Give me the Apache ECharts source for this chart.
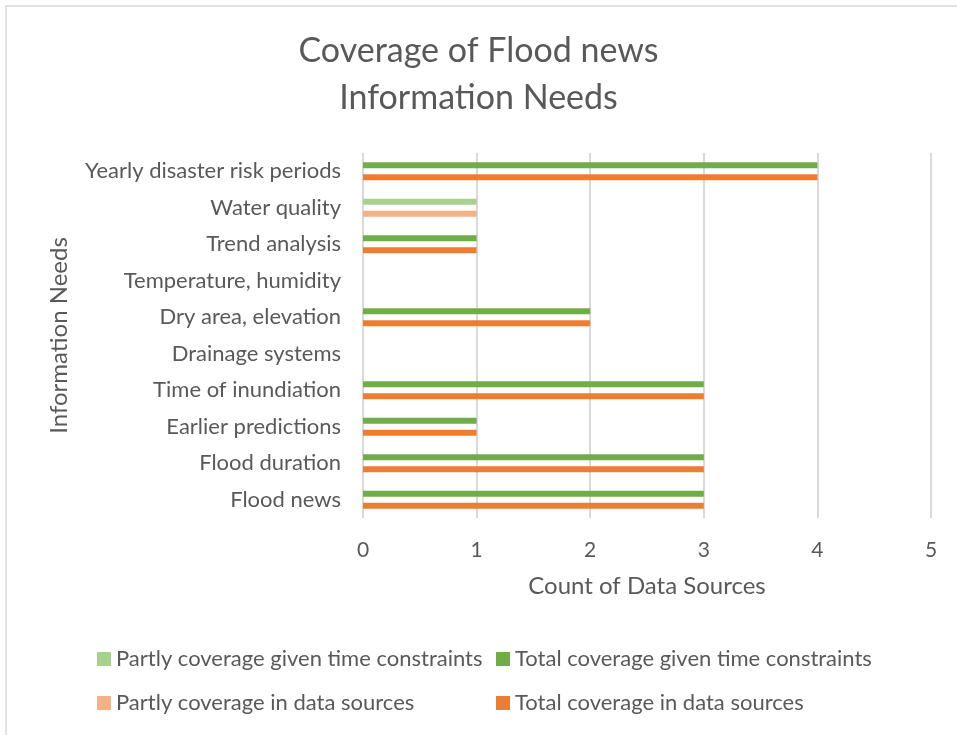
<!DOCTYPE html>
<html>
<head>
<meta charset="utf-8">
<script src="https://cdn.jsdelivr.net/npm/echarts@6/dist/echarts.min.js"></script>
<style>
  html, body { margin: 0; padding: 0; background: #fff; }
  #chart { width: 957px; height: 735px; }
</style>
</head>
<body>
<div id="chart"></div>
<script>
// Information needs, listed bottom to top on the category axis
const categories = [
  'Flood news',
  'Flood duration',
  'Earlier predictions',
  'Time of inundiation',
  'Drainage systems',
  'Dry area, elevation',
  'Temperature, humidity',
  'Trend analysis',
  'Water quality',
  'Yearly disaster risk periods'
];

// Counts of data sources per information need
const partlyTime  = [0, 0, 0, 0, 0, 0, 0, 0, 1, 0];
const totalTime   = [3, 3, 1, 3, 0, 2, 0, 1, 0, 4];
const partlyData  = [0, 0, 0, 0, 0, 0, 0, 0, 1, 0];
const totalData   = [3, 3, 1, 3, 0, 2, 0, 1, 0, 4];

const xTicks = [0, 1, 2, 3, 4, 5];

const FONT = 'Lato';
const TEXT = '#595959';

const chart = echarts.init(document.getElementById('chart'), null, { renderer: 'canvas' });

const legendText = { color: TEXT, fontFamily: FONT, fontSize: 22 };
function legendAt(name, left, top) {
  return {
    data: [name], left: left, top: top, orient: 'horizontal',
    itemWidth: 14, itemHeight: 14, itemGap: 0, padding: 0,
    icon: 'rect', textStyle: legendText, selectedMode: false
  };
}

chart.setOption({
  backgroundColor: '#fff',
  animation: false,
  title: {
    text: 'Coverage of Flood news\nInformation Needs',
    left: 'center', top: 23,
    textStyle: { color: TEXT, fontFamily: FONT, fontSize: 34, fontWeight: 'normal', lineHeight: 47 }
  },
  graphic: [{
    type: 'rect', shape: { x: 6, y: 6, width: 960, height: 740 },
    style: { fill: 'none', stroke: '#d9d9d9', lineWidth: 1.5 }, silent: true
  }],
  legend: [
    legendAt('Partly coverage given time constraints', 97, 648),
    legendAt('Total coverage given time constraints', 496, 648),
    legendAt('Partly coverage in data sources', 97, 692),
    legendAt('Total coverage in data sources', 496, 692)
  ],
  grid: { left: 363, right: 26, top: 153, bottom: 217, containLabel: false },
  xAxis: {
    type: 'value', min: xTicks[0], max: xTicks[xTicks.length - 1], interval: 1,
    name: 'Count of Data Sources', nameLocation: 'middle', nameGap: 56,
    nameTextStyle: { color: TEXT, fontFamily: FONT, fontSize: 24 },
    axisLine: { show: false }, axisTick: { show: false },
    axisLabel: { color: TEXT, fontFamily: FONT, fontSize: 21, margin: 22 },
    splitLine: { show: true, lineStyle: { color: '#d9d9d9', width: 2 } }
  },
  yAxis: {
    type: 'category', data: categories,
    name: 'Information Needs', nameLocation: 'middle', nameGap: 292, nameRotate: 90,
    nameTextStyle: { color: TEXT, fontFamily: FONT, fontSize: 24 },
    axisLine: { show: false }, axisTick: { show: false },
    axisLabel: { color: TEXT, fontFamily: FONT, fontSize: 22, margin: 22 },
    splitLine: { show: false }
  },
  series: [
    { name: 'Partly coverage given time constraints', type: 'bar', stack: 'time', data: partlyTime,
      itemStyle: { color: '#A9D18E' }, barWidth: 6, barGap: '100%' },
    { name: 'Total coverage given time constraints', type: 'bar', stack: 'time', data: totalTime,
      itemStyle: { color: '#70AD47' }, barWidth: 6, barGap: '100%' },
    { name: 'Partly coverage in data sources', type: 'bar', stack: 'data', data: partlyData,
      itemStyle: { color: '#F4B183' }, barWidth: 6, barGap: '100%' },
    { name: 'Total coverage in data sources', type: 'bar', stack: 'data', data: totalData,
      itemStyle: { color: '#ED7D31' }, barWidth: 6, barGap: '100%' }
  ]
});
</script>
</body>
</html>
